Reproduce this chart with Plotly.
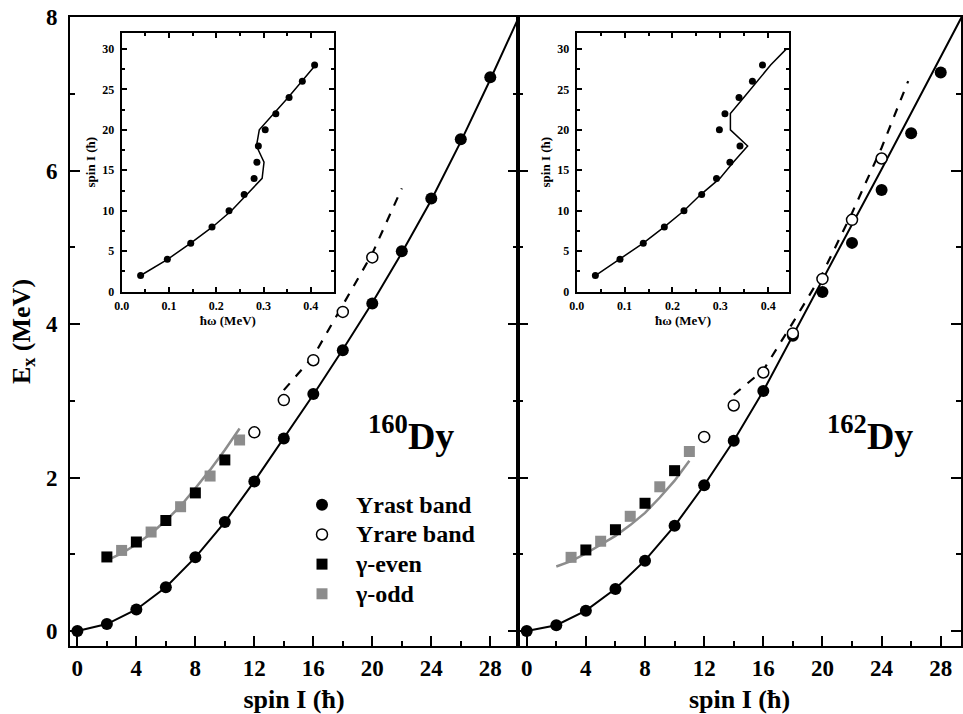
import plotly.graph_objects as go

# ---------------- data ----------------
# 160Dy main panel
I_yrast = [0, 2, 4, 6, 8, 10, 12, 14, 16, 18, 20, 22, 24, 26, 28]
E_yrast_160 = [0.0, 0.09, 0.28, 0.57, 0.96, 1.42, 1.95, 2.51, 3.09, 3.66, 4.27, 4.95, 5.64, 6.41, 7.22]
I_yline = [0, 2, 4, 6, 8, 10, 12, 14, 16, 18, 20, 22, 24, 26, 28, 30]
E_yline_160 = [0.0, 0.09, 0.28, 0.57, 0.96, 1.42, 1.95, 2.51, 3.08, 3.67, 4.28, 4.93, 5.62, 6.38, 7.19, 8.03]
I_yrare_160 = [12, 14, 16, 18, 20]
E_yrare_160 = [2.59, 3.01, 3.53, 4.16, 4.87]
I_dash_160 = [14, 16, 18, 20, 22]
E_dash_160 = [3.14, 3.58, 4.25, 4.92, 5.77]
I_geven_160 = [2, 4, 6, 8, 10]
E_geven_160 = [0.965, 1.16, 1.44, 1.80, 2.23]
I_godd_160 = [3, 5, 7, 9, 11]
E_godd_160 = [1.05, 1.29, 1.62, 2.02, 2.49]
I_gline_160 = [2, 3, 4, 5, 6, 7, 8, 9, 10, 11]
E_gline_160 = [0.92, 1.01, 1.13, 1.27, 1.44, 1.63, 1.86, 2.10, 2.36, 2.64]

# 162Dy main panel
E_yrast_162 = [0.0, 0.074, 0.265, 0.547, 0.917, 1.373, 1.90, 2.48, 3.13, 3.85, 4.42, 5.06, 5.75, 6.49, 7.28]
E_yline_162 = [0.0, 0.075, 0.265, 0.55, 0.92, 1.37, 1.90, 2.48, 3.13, 3.86, 4.57, 5.30, 6.02, 6.75, 7.48, 8.22]
I_yrare_162 = [12, 14, 16, 18, 20, 22, 24]
E_yrare_162 = [2.53, 2.94, 3.37, 3.88, 4.59, 5.36, 6.16]
I_dash_162 = [14, 16, 18, 20, 22, 24, 25.8]
E_dash_162 = [3.08, 3.40, 4.02, 4.66, 5.45, 6.30, 7.17]
I_geven_162 = [4, 6, 8, 10]
E_geven_162 = [1.056, 1.32, 1.665, 2.09]
I_godd_162 = [3, 5, 7, 9, 11]
E_godd_162 = [0.96, 1.17, 1.495, 1.88, 2.34]
I_gline_162 = [2, 3, 4, 5, 6, 7, 8, 9, 10, 11]
E_gline_162 = [0.84, 0.91, 1.01, 1.12, 1.24, 1.38, 1.54, 1.74, 1.96, 2.22]

# insets: hbar*omega (MeV) vs spin
I_ins = [2, 4, 6, 8, 10, 12, 14, 16, 18, 20, 22, 24, 26, 28]
w_ins_160 = [0.040, 0.0965, 0.146, 0.191, 0.227, 0.259, 0.280, 0.286, 0.289, 0.3035, 0.326, 0.354, 0.382, 0.408]
I_insline_160 = [2, 4, 6, 8, 10, 12, 14, 16, 18, 20, 22, 24, 26, 28]
w_insline_160 = [0.040, 0.097, 0.146, 0.192, 0.232, 0.264, 0.297, 0.301, 0.285, 0.291, 0.322, 0.352, 0.381, 0.410]
w_ins_162 = [0.039, 0.0904, 0.139, 0.183, 0.224, 0.261, 0.292, 0.320, 0.341, 0.298, 0.3096, 0.339, 0.367, 0.388]
I_insline_162 = [2, 4, 6, 8, 10, 12, 14, 16, 18, 20, 22, 24, 26, 28, 30]
w_insline_162 = [0.039, 0.090, 0.139, 0.183, 0.224, 0.259, 0.299, 0.327, 0.357, 0.321, 0.321, 0.349, 0.377, 0.405, 0.438]

x_ticks_main = [0, 4, 8, 12, 16, 20, 24, 28]
y_ticks_main = [0, 2, 4, 6, 8]
legend_names = ["Yrast band", "Yrare band", "γ-even", "γ-odd"]

# ---------------- styling ----------------
FONT = "Liberation Serif"
GRAY = "#8c8c8c"
BLACK = "black"

fig = go.Figure()

def lg(name):
    return "<span style='font-size:24px'>" + name + "</span>"

def main_traces(xa, ya, E_yline, E_yrast, I_yr, E_yr, I_d, E_d, I_ge, E_ge, I_go, E_go, I_gl, E_gl, show):
    fig.add_trace(go.Scatter(x=I_yline, y=E_yline, mode="lines", line=dict(color=BLACK, width=2),
                             showlegend=False, xaxis=xa, yaxis=ya, hoverinfo="skip"))
    fig.add_trace(go.Scatter(x=I_d, y=E_d, mode="lines", line=dict(color=BLACK, width=2.2, dash="dash"),
                             showlegend=False, xaxis=xa, yaxis=ya))
    fig.add_trace(go.Scatter(x=I_gl, y=E_gl, mode="lines", line=dict(color=GRAY, width=2.5),
                             showlegend=False, xaxis=xa, yaxis=ya))
    fig.add_trace(go.Scatter(x=I_yrast, y=E_yrast, mode="markers", name=lg(legend_names[0]),
                             marker=dict(symbol="circle", size=12, color=BLACK),
                             showlegend=show, xaxis=xa, yaxis=ya))
    fig.add_trace(go.Scatter(x=I_yr, y=E_yr, mode="markers", name=lg(legend_names[1]),
                             marker=dict(symbol="circle", size=11, color="white",
                                         line=dict(color=BLACK, width=1.5)),
                             showlegend=show, xaxis=xa, yaxis=ya))
    fig.add_trace(go.Scatter(x=I_ge, y=E_ge, mode="markers", name=lg(legend_names[2]),
                             marker=dict(symbol="square", size=11, color=BLACK),
                             showlegend=show, xaxis=xa, yaxis=ya))
    fig.add_trace(go.Scatter(x=I_go, y=E_go, mode="markers", name=lg(legend_names[3]),
                             marker=dict(symbol="square", size=11, color=GRAY),
                             showlegend=show, xaxis=xa, yaxis=ya))

main_traces("x", "y", E_yline_160, E_yrast_160, I_yrare_160, E_yrare_160, I_dash_160, E_dash_160,
            I_geven_160, E_geven_160, I_godd_160, E_godd_160, I_gline_160, E_gline_160, True)
main_traces("x2", "y2", E_yline_162, E_yrast_162, I_yrare_162, E_yrare_162, I_dash_162, E_dash_162,
            I_geven_162, E_geven_162, I_godd_162, E_godd_162, I_gline_162, E_gline_162, False)

# insets
fig.add_trace(go.Scatter(x=w_insline_160, y=I_insline_160, mode="lines", line=dict(color=BLACK, width=1.5),
                         showlegend=False, xaxis="x3", yaxis="y3"))
fig.add_trace(go.Scatter(x=w_ins_160, y=I_ins, mode="markers", marker=dict(color=BLACK, size=7),
                         showlegend=False, xaxis="x3", yaxis="y3"))
fig.add_trace(go.Scatter(x=w_insline_162, y=I_insline_162, mode="lines", line=dict(color=BLACK, width=1.5),
                         showlegend=False, xaxis="x4", yaxis="y4"))
fig.add_trace(go.Scatter(x=w_ins_162, y=I_ins, mode="markers", marker=dict(color=BLACK, size=7),
                         showlegend=False, xaxis="x4", yaxis="y4"))

tickfont_main = dict(family=FONT, size=23, color=BLACK, weight="bold")
titlefont_main = dict(family=FONT, size=26, color=BLACK, weight="bold")
tickfont_ins = dict(family=FONT, size=12, color=BLACK, weight="bold")
titlefont_ins = dict(family=FONT, size=13, color=BLACK, weight="bold")

def main_x(domain, rng, anchor):
    return dict(domain=domain, range=rng, anchor=anchor, tickvals=x_ticks_main,
                ticks="inside", ticklen=10, tickwidth=2, tickcolor=BLACK,
                minor=dict(tickvals=[2, 6, 10, 14, 18, 22, 26], ticks="inside", ticklen=5, tickwidth=2, tickcolor=BLACK),
                showline=True, linewidth=2, linecolor=BLACK, mirror=True,
                showgrid=False, zeroline=False, tickfont=tickfont_main, ticklabelstandoff=0,
                title=dict(text="spin I (ħ)", font=titlefont_main, standoff=14), automargin=False)

def main_y(anchor, labels, lw=2):
    return dict(range=[-0.196, 8.005], anchor=anchor, tickvals=y_ticks_main,
                ticks="inside", ticklen=10, tickwidth=2, tickcolor=BLACK,
                minor=dict(tickvals=[1, 3, 5, 7], ticks="inside", ticklen=5, tickwidth=2, tickcolor=BLACK),
                showline=True, linewidth=lw, linecolor=BLACK, mirror="ticks",
                showgrid=False, zeroline=False, showticklabels=labels, tickfont=tickfont_main,
                ticklabelstandoff=6, automargin=False,
                title=dict(text="E<sub>x</sub> (MeV)" if labels else "", font=titlefont_main, standoff=8))

def ins_x(domain, rng, anchor):
    return dict(domain=domain, range=rng, anchor=anchor, dtick=0.1, tick0=0, tickformat=".1f",
                ticks="inside", ticklen=5, tickwidth=1.5, tickcolor=BLACK,
                minor=dict(dtick=0.05, tick0=0, ticks="inside", ticklen=3, tickwidth=1.5, tickcolor=BLACK),
                showline=True, linewidth=2, linecolor=BLACK, mirror="ticks",
                showgrid=False, zeroline=False, tickfont=tickfont_ins, ticklabelstandoff=2,
                title=dict(text="ħω (MeV)", font=titlefont_ins, standoff=4), automargin=False)

def ins_y(domain, anchor):
    return dict(domain=domain, range=[0, 32], anchor=anchor, dtick=5, tick0=0,
                ticks="inside", ticklen=5, tickwidth=1.5, tickcolor=BLACK,
                minor=dict(dtick=2.5, tick0=0, ticks="inside", ticklen=3, tickwidth=1.5, tickcolor=BLACK),
                showline=True, linewidth=2, linecolor=BLACK, mirror="ticks",
                showgrid=False, zeroline=False, tickfont=tickfont_ins, ticklabelstandoff=3,
                title=dict(text="spin I (ħ)", font=titlefont_ins, standoff=4), automargin=False)

ML, MR, MT, MB = 70, 2, 17, 68
W, H = 963, 714
PW, PH = W - ML - MR, H - MT - MB
def px_x(p):
    return (p - ML) / PW
def px_y(p):
    return (H - MB - p) / PH

split = px_x(518)
fig.update_layout(
    width=W, height=H,
    margin=dict(l=ML, r=MR, t=MT, b=MB, pad=0),
    paper_bgcolor="white", plot_bgcolor="rgba(0,0,0,0)",
    font=dict(family=FONT, color=BLACK, weight="bold"),
    xaxis=main_x([0, split], [-0.5, 29.88], "y"),
    yaxis=main_y("x", True),
    xaxis2=main_x([split, 1], [-0.59, 29.37], "y2"),
    yaxis2=dict(main_y("x2", False, lw=2), domain=[0, 1]),
    xaxis3=ins_x([px_x(121.7), px_x(334)], [0, 0.449], "y3"),
    yaxis3=ins_y([px_y(291.7), px_y(32.7)], "x3"),
    xaxis4=ins_x([px_x(576.7), px_x(789.3)], [0, 0.444], "y4"),
    yaxis4=ins_y([px_y(291.7), px_y(32.7)], "x4"),
    showlegend=True,
    legend=dict(x=px_x(288), y=px_y(485), xanchor="left", yanchor="top",
                bgcolor="rgba(0,0,0,0)", borderwidth=0, itemwidth=58,
                font=dict(family=FONT, size=20.5, color=BLACK, weight="bold"),
                tracegroupgap=0, itemclick=False),
    annotations=[
        dict(x=22.6, y=2.58, xref="x", yref="y", text="<sup>160</sup>Dy", showarrow=False,
             font=dict(family=FONT, size=38, color=BLACK, weight="bold")),
        dict(x=23.2, y=2.58, xref="x2", yref="y2", text="<sup>162</sup>Dy", showarrow=False,
             font=dict(family=FONT, size=38, color=BLACK, weight="bold")),
    ],
)

fig.write_html("out.html")
